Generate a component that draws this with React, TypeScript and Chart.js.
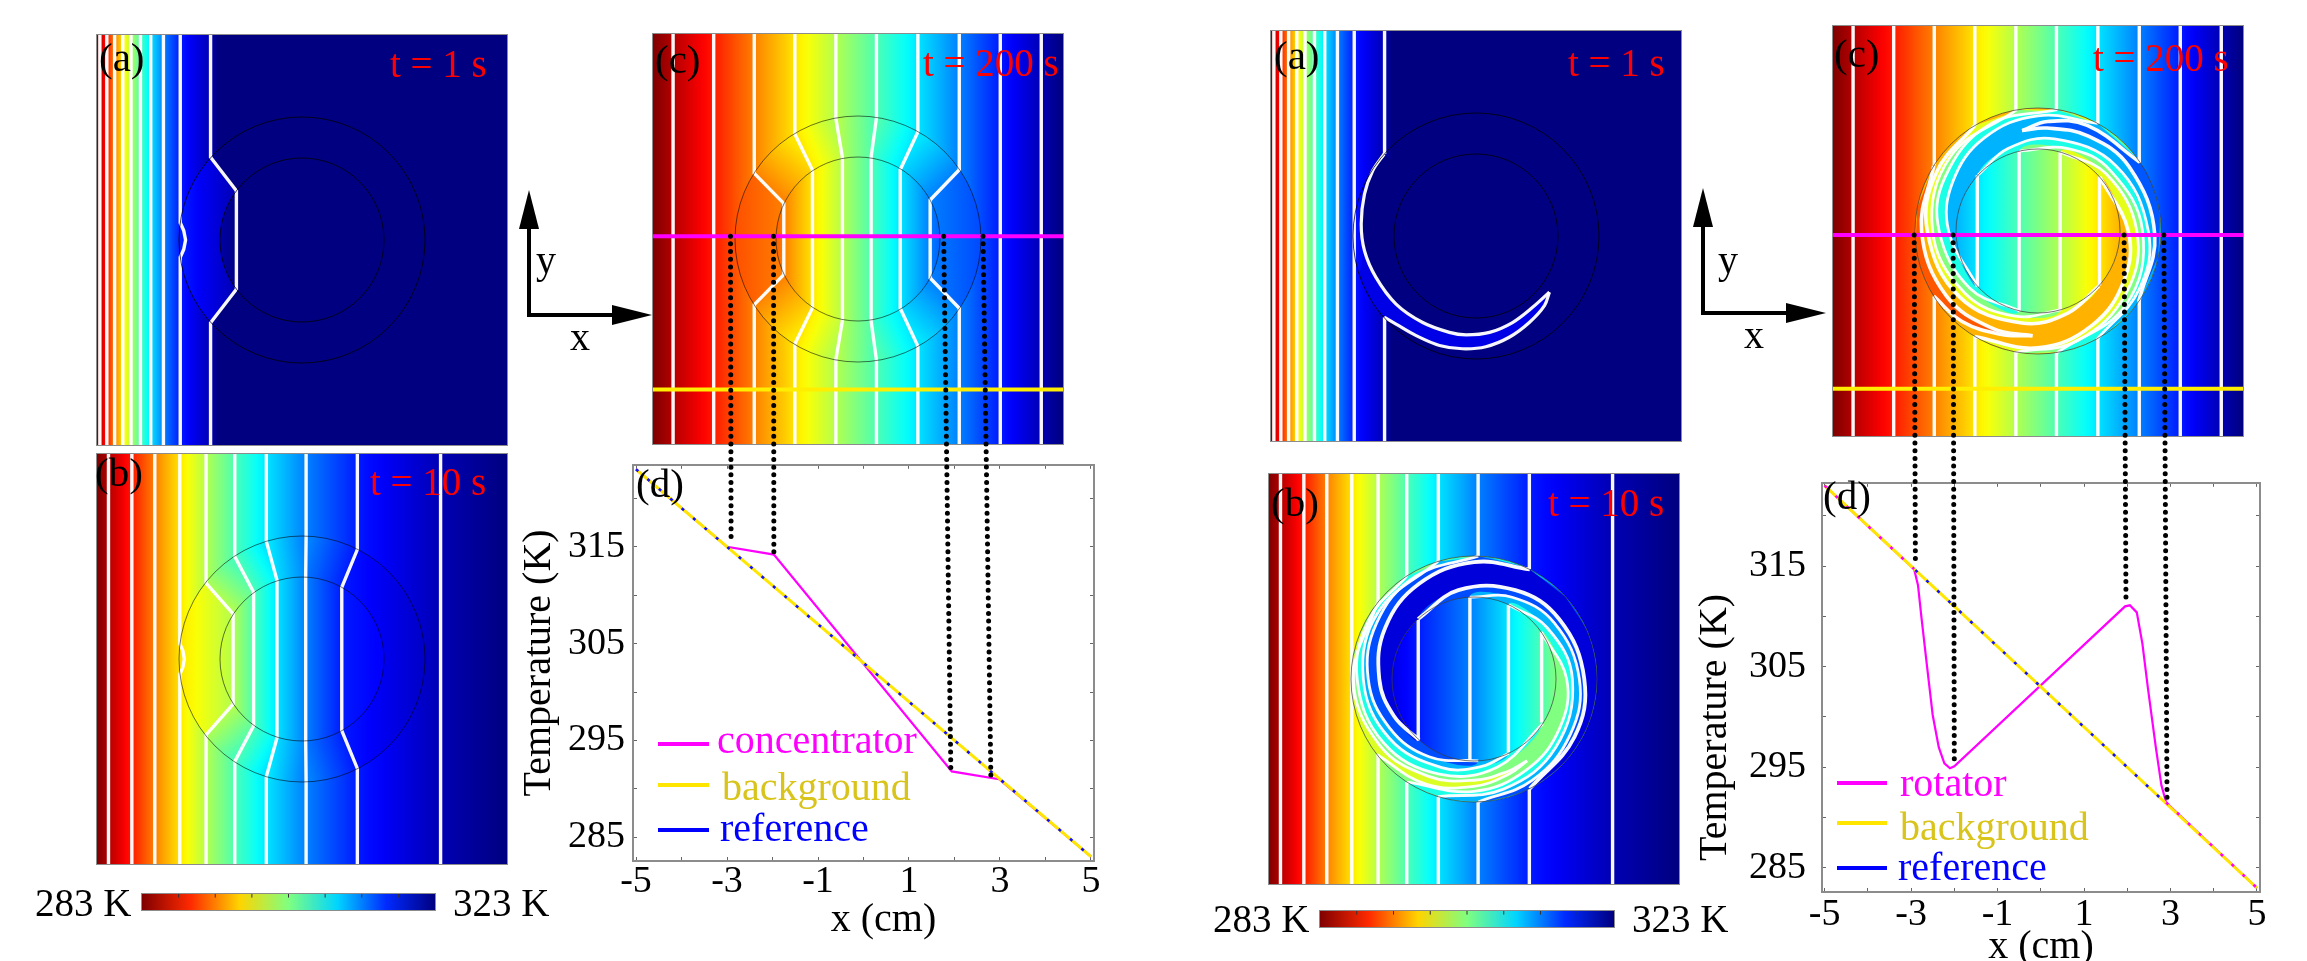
import React, { useEffect, useRef } from 'react';
import { Chart, registerables } from 'chart.js';
Chart.register(...registerables);

const FONT = '"Liberation Serif", "Times New Roman", serif';

// ---------- colour scale (level 0 = 283 K end, level 1 = 323 K end)
const jetNodes = [[0, 128, 0, 0], [0.125, 255, 0, 0], [0.375, 255, 255, 0], [0.5, 128, 255, 128], [0.625, 0, 255, 255], [0.875, 0, 0, 255], [1, 0, 0, 128]];
const contourLevels = [0.05, 0.15, 0.25, 0.35, 0.45, 0.55, 0.65, 0.75, 0.85, 0.95];
const colorbarTicks = [288, 293, 298, 303, 308, 313, 318];

// ---------- isotherm x positions (cm) away from the device, one per contour level
const isoT1 = [-4.93, -4.76, -4.57, -4.37, -4.17, -3.94, -3.69, -3.38, -2.97, -2.23];
const isoT10 = [-4.72, -4.15, -3.59, -2.98, -2.34, -1.64, -0.87, 0.1, 1.35, 3.38];
const isoT200 = [-4.51, -3.52, -2.53, -1.54, -0.54, 0.45, 1.46, 2.47, 3.47, 4.47];

// ---------- concentrator contours inside the shell: [iso index, y at r=3, x at r=2, y at r=2]
const concKinksT1 = [[9, 2.02, -1.6, 1.2]];
const concKinksT10 = [[4, 1.85, -1.68, 1.1], [5, 2.5, -1.18, 1.63], [6, 2.87, -0.61, 1.92], [7, 2.99, 0.09, 2.0], [8, 2.67, 0.97, 1.75]];
const concKinksT200 = [[2, 1.6, -1.81, 0.87], [3, 2.56, -1.11, 1.68], [4, 2.94, -0.38, 1.99], [5, 2.96, 0.32, 2.0], [6, 2.61, 1.03, 1.69], [7, 1.69, 1.76, 0.95]];
// bump on an isotherm that grazes the shell: [iso index, x of bump, half height]
const concBumpT1 = [8, -2.84, 0.42];
const concBumpT10 = [3, -2.87, 0.37];

// ---------- rotator contours in polar form [angle deg, radius cm]
const rotB_85t = [[63, 3], [90, 2.85], [120, 2.68], [150, 2.5], [180, 2.31], [205, 2.15], [228, 2]];
const rotB_75t = [[88, 3], [120, 2.88], [150, 2.74], [180, 2.58], [210, 2.38], [240, 2.19], [273, 2]];
const rotB_65t = [[107, 3], [145, 2.85], [180, 2.7], [215, 2.52], [250, 2.3], [275, 2.14], [295, 2]];
const rotB_55t = [[123, 3], [150, 2.94], [180, 2.85], [215, 2.7], [250, 2.47], [285, 2.22], [327, 2]];
const rotB_45a = [[142, 3], [180, 2.94], [215, 2.81], [245, 2.62], [270, 2.47], [290, 2.4], [303, 2.38]];
const rotB_45b = [[218, 3], [245, 2.82], [270, 2.62], [290, 2.47], [303, 2.38]];
const rotB_55b = [[237, 3], [270, 2.74], [300, 2.56], [330, 2.41], [360, 2.26], [395, 2]];
const rotB_65b = [[253, 3], [285, 2.78], [320, 2.6], [360, 2.4], [395, 2.18], [425, 2]];
const rotB_75b = [[272, 3], [300, 2.85], [330, 2.71], [360, 2.57], [395, 2.39], [425, 2.2], [453, 2]];
const rotB_85b = [[297, 3], [330, 2.83], [360, 2.69], [395, 2.54], [425, 2.39], [460, 2.2], [493, 2]];

const rotC_25a = [[148, 3], [180, 2.84], [215, 2.74], [245, 2.62], [267, 2.56]];
const rotC_25b = [[212, 3], [230, 2.88], [250, 2.68], [267, 2.56]];
const rotC_35t = [[121, 3], [150, 2.86], [180, 2.7], [220, 2.5], [260, 2.28], [290, 2.13], [318, 2]];
const rotC_45t = [[100, 3], [140, 2.8], [180, 2.57], [220, 2.34], [255, 2.15], [286, 2]];
const rotC_55t = [[81, 3], [115, 2.85], [150, 2.62], [180, 2.41], [220, 2.17], [257, 2]];
const rotC_65t = [[61, 3], [90, 2.81], [120, 2.62], [150, 2.4], [180, 2.18], [222, 2]];
const rotC_35b = [[239, 3], [270, 2.85], [300, 2.65], [330, 2.42], [360, 2.2], [401, 2]];
const rotC_45b = [[260, 3], [290, 2.84], [325, 2.63], [360, 2.41], [400, 2.17], [434, 2]];
const rotC_55b = [[279, 3], [320, 2.8], [360, 2.55], [400, 2.3], [430, 2.14], [463, 2]];
const rotC_65b = [[299, 3], [330, 2.85], [360, 2.69], [400, 2.48], [440, 2.28], [470, 2.14], [497, 2]];
const rotC_75a = [[325, 3], [358, 2.85], [395, 2.72], [422, 2.62], [445, 2.52], [459, 2.48]];
const rotC_75b = [[394, 3], [425, 2.84], [445, 2.68], [459, 2.48]];

// rotator t = 1 s crescent, x/y in cm
const crescentInner = [[-2.24, 2.0], [-2.52, 1.59], [-2.72, 1.02], [-2.8, 0.29], [-2.72, -0.36], [-2.44, -1.01], [-1.95, -1.66], [-1.3, -2.11], [-0.65, -2.35], [-0.24, -2.41], [0.33, -2.35], [0.89, -2.11], [1.38, -1.74], [1.79, -1.37]];
const crescentOuter = [[1.79, -1.37], [1.67, -1.7], [1.3, -2.11], [0.81, -2.47], [0.24, -2.7], [-0.33, -2.75], [-0.89, -2.67], [-1.46, -2.43], [-1.95, -2.15], [-2.24, -1.98]];

// rotator straight parts: y where the level hits the outer circle (iso index 4..8 / 2..7) and inside lines [x, yTop, yBottom]
const rotBOuterY = [1.83, 2.51, 2.87, 3, 2.68];
const rotBInner = [[-1.36, 1.44, -1.5], [-0.1, 2, -2], [0.84, 1.81, -1.79], [1.65, 1.14, -1.06]];
const rotBInnerLevels = [0.85, 0.75, 0.65, 0.55];
const rotCOuterY = [1.6, 2.56, 2.94, 2.96, 2.61, 1.66];
const rotCInner = [[-1.48, 1.36, -1.36], [-0.46, 1.95, -1.95], [0.54, 1.93, -1.93], [1.5, 1.33, -1.33]];
const rotCInnerLevels = [0.65, 0.55, 0.45, 0.35];

// ---------- temperature profiles, x in cm, T in K
const referenceX = [-5, 5];
const referenceT = [323, 283];
const backgroundX = [-5, 5];
const backgroundT = [323, 283];
const concentratorX = [-5, -3, -1.97, 1.94, 2.98, 5];
const concentratorT = [323, 315, 314.2, 291.8, 291, 283];
const rotatorX = [-5, -2.93, -2.84, -2.76, -2.63, -2.5, -2.36, -2.23, -2.1, -2, 1.95, 2.06, 2.22, 2.35, 2.48, 2.66, 2.79, 2.9, 5];
const rotatorT = [323, 314.7, 313.1, 309.9, 305, 300.2, 297, 295.4, 294.9, 295.1, 311, 311.1, 310.4, 307.3, 302.8, 297, 293.2, 291.5, 283];
const referenceMidX = [-2.9, 2.9];
const referenceMidT = [314.6, 291.4];
const xAxisTicks = [-5, -4, -3, -2, -1, 0, 1, 2, 3, 4, 5];
const yAxisTicks = [285, 290, 295, 300, 305, 310, 315, 320];
const xTickLabels = [-5, -3, -1, 1, 3, 5];
const yTickLabels = [285, 295, 305, 315];

// connectors: position on the cut line of (c) -> point on the curve of (d)
const connLeftTopX = [-3.11, -2.06, 2.09, 3.05];
const connLeftBottomX = [-2.91, -1.97, 1.92, 2.8];
const connLeftBottomT = [315, 314, 291.7, 291];
const connRightTopX = [-3.02, -2.07, 2.1, 3.07];
const connRightBottomX = [-2.9, -2.0, 1.97, 2.92];
const connRightBottomT = [314.6, 295, 311, 291.3];
const cutLeft = { magenta: 0.07, yellow: -3.67 };
const cutRight = { magenta: -0.1, yellow: -3.85 };

// ---------- layout (page pixels)
const SIZE = 410;
const P = {
  la: { left: 97, top: 35 }, lb: { left: 97, top: 454 }, lc: { left: 653, top: 34 },
  ra: { left: 1271, top: 31 }, rb: { left: 1269, top: 474 }, rc: { left: 1833, top: 26 },
};
const LD = { cl: 512, ct: 430, cw: 600, ch: 531, left: 633, right: 1094, top: 460, bottom: 861, xMin: -5.066, xMax: 5.066, yMin: 282.55, yMax: 323.47 };
const RD = { cl: 1690, ct: 440, cw: 617, ch: 521, left: 1822, right: 2260, top: 471, bottom: 892, xMin: -5.06, xMax: 5.07, yMin: 282.6, yMax: 323.28 };
const CB = [{ left: 142, top: 894, w: 293, h: 16 }, { left: 1320, top: 911, w: 294, h: 16 }];
const arrows = [
  { x: 529, yTop: 190, yBase: 229, y0: 315, xEnd: 652, xBase: 612 },
  { x: 1703, yTop: 188, yBase: 227, y0: 313, xEnd: 1826, xBase: 1786 },
];
const labels: any[] = [
  ['(a)', 99, 57, 41, '#000'], ['t = 1 s', 390, 63, 39, '#f00'],
  ['(b)', 95, 472, 41, '#000'], ['t = 10 s', 370, 481, 39, '#f00'],
  ['(c)', 655, 59, 41, '#000'], ['t = 200 s', 923, 62, 39, '#f00'],
  ['(d)', 636, 483, 41, '#000'],
  ['283 K', 35, 902, 39, '#000'], ['323 K', 453, 902, 39, '#000'],
  ['y', 536, 260, 40, '#000'], ['x', 570, 337, 40, '#000'],
  ['concentrator', 717, 740, 40, '#ff00ff'], ['background', 722, 787, 40, '#d9c41c'], ['reference', 720, 828, 40, '#0000ff'],
  ['(a)', 1274, 55, 41, '#000'], ['t = 1 s', 1568, 62, 39, '#f00'],
  ['(b)', 1271, 502, 41, '#000'], ['t = 10 s', 1548, 502, 39, '#f00'],
  ['(c)', 1834, 53, 41, '#000'], ['t = 200 s', 2093, 57, 39, '#f00'],
  ['(d)', 1823, 495, 41, '#000'],
  ['283 K', 1213, 918, 39, '#000'], ['323 K', 1632, 918, 39, '#000'],
  ['y', 1718, 260, 40, '#000'], ['x', 1744, 335, 40, '#000'],
  ['rotator', 1900, 783, 40, '#ff00ff'], ['background', 1900, 827, 40, '#d9c41c'], ['reference', 1898, 867, 40, '#0000ff'],
];
const swatches: any[] = [
  [658, 744, 51, '#ff00ff'], [658, 785, 51, '#ffe600'], [658, 830, 51, '#0000ff'],
  [1837, 783, 50, '#ff00ff'], [1837, 823, 50, '#ffe600'], [1837, 868, 50, '#0000ff'],
];

// ---------- helpers
function jetRgb(l: number) {
  const v = Math.max(0, Math.min(1, l));
  for (let i = 1; i < jetNodes.length; i++) {
    if (v <= jetNodes[i][0]) {
      const a = jetNodes[i - 1], b = jetNodes[i];
      const t = (v - a[0]) / (b[0] - a[0]);
      return `rgb(${Math.round(a[1] + (b[1] - a[1]) * t)},${Math.round(a[2] + (b[2] - a[2]) * t)},${Math.round(a[3] + (b[3] - a[3]) * t)})`;
    }
  }
  return 'rgb(0,0,128)';
}
function addStops(g: CanvasGradient, stops: number[][]) {
  for (let i = 0; i < stops.length - 1; i++) {
    const [p0, l0] = stops[i], [p1, l1] = stops[i + 1];
    for (let k = 0; k <= 6; k++) {
      const t = k / 6;
      g.addColorStop(Math.max(0, Math.min(1, p0 + (p1 - p0) * t)), jetRgb(l0 + (l1 - l0) * t));
    }
  }
}
// gradients need a laid-out scale; before layout Chart.js may ask for the option once
const ready = (...v: number[]) => v.every(Number.isFinite);
// horizontal gradient over x stops [[x, level]...]
const xGradient = (stops: number[][]) => (c: any) => {
  const s = c.chart.scales.x;
  const x0 = stops[0][0], x1 = stops[stops.length - 1][0];
  const a = s.getPixelForValue(x0), b = s.getPixelForValue(x1);
  if (!ready(a, b)) return 'rgba(0,0,0,0)';
  const g = c.chart.ctx.createLinearGradient(a, 0, b, 0);
  addStops(g, stops.map(([x, l]) => [(x - x0) / (x1 - x0), l]));
  return g;
};
const lineGradient = (a: number[], b: number[], la: number, lb: number) => (c: any) => {
  const { x, y } = c.chart.scales;
  const v = [x.getPixelForValue(a[0]), y.getPixelForValue(a[1]), x.getPixelForValue(b[0]), y.getPixelForValue(b[1])];
  if (!ready(...v)) return 'rgba(0,0,0,0)';
  const g = c.chart.ctx.createLinearGradient(v[0], v[1], v[2], v[3]);
  addStops(g, [[0, la], [1, lb]]);
  return g;
};
const xy = (pts: number[][]) => pts.map(([x, y]) => ({ x, y }));
const pol = (pts: number[][]) => pts.map(([a, r]) => [r * Math.cos(a * Math.PI / 180), r * Math.sin(a * Math.PI / 180)]);
const rarc = (r: number, a0: number, a1: number, step = 25) => {
  const n = Math.max(1, Math.ceil(Math.abs(a1 - a0) / step));
  const out: number[][] = [];
  for (let i = 1; i < n; i++) out.push([a0 + (a1 - a0) * i / n, r]);
  return out;
};
const deg = (x: number, y: number) => Math.atan2(y, x) * 180 / Math.PI;

const WHITE = 'rgba(255,255,255,0.97)';
const polyDs = (pts: number[][], color: any, tension = 0) => ({ data: xy(pts), fill: 'shape', backgroundColor: color, borderWidth: 0, pointRadius: 0, tension, showLine: true });
const lineDs = (pts: number[][], color = WHITE, width = 3.4, tension = 0) => ({ data: xy(pts), borderColor: color, borderWidth: width, pointRadius: 0, fill: false, tension });
const circleDs = (r: number, fill: any, stroke = 'rgba(0,0,0,0)', width = 0) => ({
  data: [{ x: 0, y: 0 }], showLine: false, pointStyle: 'circle',
  pointRadius: (c: any) => {
    const d = c.chart.scales.x.getPixelForValue(r) - c.chart.scales.x.getPixelForValue(0);
    return Number.isFinite(d) ? d : 0;
  },
  pointBackgroundColor: fill, pointBorderColor: stroke, pointBorderWidth: width, clip: false,
});
const fieldDs = (iso: number[], tail?: number) => {
  const stops = [[-5, 0], ...iso.map((x, i) => [x, contourLevels[i]])];
  if (tail !== undefined) stops.push([tail, 1]);
  stops.push([5, 1]);
  return polyDs([[-5, -5], [5, -5], [5, 5], [-5, 5]], xGradient(stops));
};
const levelAt = (iso: number[], x: number) => {
  const xs = [-5, ...iso, 5], ls = [0, ...contourLevels, 1];
  for (let i = 1; i < xs.length; i++) if (x <= xs[i]) return ls[i - 1] + (ls[i] - ls[i - 1]) * (x - xs[i - 1]) / (xs[i] - xs[i - 1]);
  return 1;
};

function concentrator(iso: number[], kinks: number[][], bump: number[] | null, tail: number | undefined, ring = 'rgba(0,0,0,0.55)', cut?: any) {
  const ds: any[] = [fieldDs(iso, tail)];
  const K = kinks.map(([i, yo, xi, yi]) => ({ i, xo: iso[i], yo, xi, yi, l: contourLevels[i] }));
  // bands between neighbouring contours
  for (let k = 0; k < K.length - 1; k++) {
    const a = K[k], b = K[k + 1];
    for (const s of [1, -1]) {
      const a0 = deg(a.xo, a.yo * s), a1 = deg(b.xo, b.yo * s);
      const i0 = deg(a.xi, a.yi * s), i1 = deg(b.xi, b.yi * s);
      const arcO = pol(rarc(3, a0, a1, 8));
      const arcI = pol(rarc(2, i1, i0, 8));
      const pts = [[a.xo, a.yo * s], ...arcO, [b.xo, b.yo * s], [b.xi, b.yi * s], ...arcI, [a.xi, a.yi * s]];
      ds.push(polyDs(pts, lineGradient([(a.xo + a.xi) / 2, ((a.yo + a.yi) / 2) * s], [(b.xo + b.xi) / 2, ((b.yo + b.yi) / 2) * s], a.l, b.l)));
    }
  }
  // left side of the shell
  const f = K[0];
  {
    const a = deg(f.xo, f.yo), b = deg(f.xi, f.yi);
    const pts = [[f.xo, f.yo], ...pol(rarc(3, a, 360 - a, 8)), [f.xo, -f.yo], [f.xi, -f.yi], ...pol(rarc(2, 360 - b, b, 8)), [f.xi, f.yi]];
    ds.push(polyDs(pts, xGradient([[-3, levelAt(iso, -3)], [f.xi, f.l]])));
  }
  // right side of the shell
  const e = K[K.length - 1];
  if (e.i < 9) {
    const a = deg(e.xo, e.yo), b = deg(e.xi, e.yi);
    const pts = [[e.xo, e.yo], ...pol(rarc(3, a, -a, 8)), [e.xo, -e.yo], [e.xi, -e.yi], ...pol(rarc(2, -b, b, 8)), [e.xi, e.yi]];
    ds.push(polyDs(pts, xGradient([[e.xi, e.l], [3, levelAt(iso, 3)]])));
  }
  // inner disc
  const discStops = e.i === 9 ? [[-2, 0.96], [f.xi, 1], [2, 1]]
    : [[-2, f.l - 0.03], ...K.map(k => [k.xi, k.l]), [2, e.l + 0.03]];
  ds.push(circleDs(2, xGradient(discStops)));
  // contours
  iso.forEach((x, i) => {
    const kink = K.find(k => k.i === i);
    if (kink) ds.push(lineDs([[x, 5], [x, kink.yo], [kink.xi, kink.yi], [kink.xi, -kink.yi], [x, -kink.yo], [x, -5]]));
    else if (bump && bump[0] === i) {
      ds.push(lineDs([[x, 5], [x, bump[2]], [(x + bump[1]) / 2 + 0.02, bump[2] * 0.55], [bump[1], 0], [(x + bump[1]) / 2 + 0.02, -bump[2] * 0.55], [x, -bump[2]], [x, -5]]));
    } else ds.push(lineDs([[x, 5], [x, -5]]));
  });
  ds.push(circleDs(3, 'rgba(0,0,0,0)', ring, 1));
  ds.push(circleDs(2, 'rgba(0,0,0,0)', ring, 1));
  if (cut) {
    ds.push(lineDs([[-5, cut.yellow], [5, cut.yellow]], '#ffee00', 4));
    ds.push(lineDs([[-5, cut.magenta], [5, cut.magenta]], '#ff00ff', 4));
  }
  return ds;
}

const zone = (top: number[][], bot: number[][], level: number) => {
  let end = top[0][0];
  while (end < bot[0][0]) end += 360;
  const path = [...top, ...[...bot].reverse(), ...rarc(3, bot[0][0], end)];
  return polyDs(pol(path), jetRgb(level), 0.3);
};
const loop = (a: number[][], b: number[][], level: number) => {
  const path = [...a, ...[...b].reverse(), ...rarc(3, b[0][0], a[0][0])];
  return polyDs(pol(path), jetRgb(level), 0.3);
};
const spiral = (pts: number[][], width = 2.8) => lineDs(pol(pts), WHITE, width, 0.4);

function rotatorB() {
  const ds: any[] = [fieldDs(isoT10)];
  ds.push(circleDs(3, jetRgb(0.5)));
  ds.push(loop(rotB_45a, rotB_45b, 0.41));
  ds.push(zone(rotB_55t, rotB_55b, 0.6));
  ds.push(zone(rotB_65t, rotB_65b, 0.7));
  ds.push(zone(rotB_75t, rotB_75b, 0.8));
  ds.push(zone(rotB_85t, rotB_85b, 0.91));
  ds.push(circleDs(2, xGradient([[-2, 0.9], ...rotBInner.map((r, i) => [r[0], rotBInnerLevels[i]]), [2, 0.5]])));
  isoT10.forEach((x, i) => {
    if (i >= 4 && i <= 8) {
      const y = rotBOuterY[i - 4];
      ds.push(lineDs([[x, 5], [x, y]]));
      ds.push(lineDs([[x, -y], [x, -5]]));
    } else ds.push(lineDs([[x, 5], [x, -5]]));
  });
  rotBInner.forEach(([x, t, b]) => ds.push(lineDs([[x, t], [x, b]])));
  [rotB_45a, rotB_45b, rotB_55t, rotB_55b, rotB_65t, rotB_65b, rotB_75t, rotB_75b].forEach(s => ds.push(spiral(s)));
  ds.push(spiral(rotB_85t, 3.8));
  ds.push(spiral(rotB_85b, 3.8));
  ds.push(circleDs(3, 'rgba(0,0,0,0)', 'rgba(60,60,60,0.7)', 1));
  ds.push(circleDs(2, 'rgba(0,0,0,0)', 'rgba(60,60,60,0.7)', 1));
  return ds;
}
function rotatorC() {
  const ds: any[] = [fieldDs(isoT200)];
  ds.push(circleDs(3, jetRgb(0.3)));
  ds.push(loop(rotC_25a, rotC_25b, 0.21));
  ds.push(zone(rotC_35t, rotC_35b, 0.4));
  ds.push(zone(rotC_45t, rotC_45b, 0.5));
  ds.push(zone(rotC_55t, rotC_55b, 0.6));
  ds.push(zone(rotC_65t, rotC_65b, 0.7));
  ds.push(loop(rotC_75a, rotC_75b, 0.79));
  ds.push(circleDs(2, xGradient([[-2, 0.7], ...rotCInner.map((r, i) => [r[0], rotCInnerLevels[i]]), [2, 0.3]])));
  isoT200.forEach((x, i) => {
    if (i >= 2 && i <= 7) {
      const y = rotCOuterY[i - 2];
      ds.push(lineDs([[x, 5], [x, y]]));
      ds.push(lineDs([[x, -y], [x, -5]]));
    } else ds.push(lineDs([[x, 5], [x, -5]]));
  });
  rotCInner.forEach(([x, t, b]) => ds.push(lineDs([[x, t], [x, b]])));
  [rotC_45t, rotC_45b, rotC_55t, rotC_55b, rotC_65t, rotC_65b].forEach(s => ds.push(spiral(s)));
  [rotC_25a, rotC_25b, rotC_35t, rotC_35b, rotC_75a, rotC_75b].forEach(s => ds.push(spiral(s, 3.6)));
  ds.push(circleDs(3, 'rgba(0,0,0,0)', 'rgba(60,60,60,0.7)', 1));
  ds.push(circleDs(2, 'rgba(0,0,0,0)', 'rgba(60,60,60,0.7)', 1));
  ds.push(lineDs([[-5, cutRight.yellow], [5, cutRight.yellow]], '#ffee00', 4));
  ds.push(lineDs([[-5, cutRight.magenta], [5, cutRight.magenta]], '#ff00ff', 4));
  return ds;
}
function rotatorA() {
  const ds: any[] = [fieldDs(isoT1, -2.05)];
  ds.push(polyDs(crescentInner, jetRgb(1), 0.3));
  ds.push(polyDs([...crescentInner.slice(4), ...crescentOuter, [-2.62, -1.46], [-2.85, -0.95]], jetRgb(0.9), 0.3));
  ds.push(circleDs(2, jetRgb(1)));
  isoT1.forEach((x, i) => {
    if (i === 9) {
      ds.push(lineDs([[x, 5], [x, 2.0]]));
      ds.push(lineDs([[x, -1.98], [x, -5]]));
    } else ds.push(lineDs([[x, 5], [x, -5]]));
  });
  ds.push(lineDs(crescentInner, WHITE, 3.2, 0.35));
  ds.push(lineDs(crescentOuter, WHITE, 3.2, 0.35));
  ds.push(circleDs(3, 'rgba(0,0,0,0)', 'rgba(0,0,0,0.75)', 1));
  ds.push(circleDs(2, 'rgba(0,0,0,0)', 'rgba(0,0,0,0.75)', 1));
  return ds;
}

const fieldOptions = (): any => ({
  responsive: false, maintainAspectRatio: false, animation: false, devicePixelRatio: 1, events: [],
  layout: { padding: 0, autoPadding: false },
  plugins: { legend: { display: false }, tooltip: { enabled: false } },
  scales: { x: { type: 'linear', bounds: 'data', min: -5, max: 5, display: false }, y: { type: 'linear', bounds: 'data', min: -5, max: 5, display: false } },
});

const fixedTicks = (values: number[]) => (s: any) => { s.ticks = values.map(value => ({ value })); };

function profileOptions(g: any, opt: any): any {
  const tickStyle = { drawOnChartArea: false, drawTicks: true, tickLength: -4, tickColor: '#666', tickWidth: 1 };
  const border = { display: true, color: '#8c8c8c', width: 2 };
  const font = { family: FONT, size: 38 };
  return {
    responsive: false, maintainAspectRatio: false, animation: false, devicePixelRatio: 1, events: [],
    layout: { padding: { top: g.top - g.ct, right: g.cl + g.cw - g.right, left: 0, bottom: 0 }, autoPadding: false },
    plugins: { legend: { display: false }, tooltip: { enabled: false } },
    scales: {
      x: {
        type: 'linear', bounds: 'data', min: g.xMin, max: g.xMax, grid: tickStyle, border, afterBuildTicks: fixedTicks(xAxisTicks),
        ticks: { autoSkip: false, maxRotation: 0, minRotation: 0, font, color: '#000', padding: opt.xPad, callback: (v: number) => xTickLabels.includes(v) ? String(v) : '' },
        title: { display: true, text: opt.xTitle, font: { family: FONT, size: 40 }, color: '#000', padding: { top: 0, bottom: opt.xTitlePad } },
        afterFit: (s: any) => { s.height = g.ct + g.ch - g.bottom; },
      },
      y: {
        type: 'linear', bounds: 'data', min: g.yMin, max: g.yMax, grid: tickStyle, border, afterBuildTicks: fixedTicks(yAxisTicks),
        ticks: { autoSkip: false, font, color: '#000', padding: opt.yPad, callback: (v: number) => yTickLabels.includes(v) ? String(v) : '' },
        title: { display: true, text: opt.yTitle, font: { family: FONT, size: 40 }, color: '#000', padding: { top: opt.yTitlePad, bottom: 0 } },
        afterFit: (s: any) => { s.width = g.left - g.cl; },
      },
      x2: {
        type: 'linear', bounds: 'data', position: 'top', min: g.xMin, max: g.xMax, grid: tickStyle, border, afterBuildTicks: fixedTicks(xAxisTicks),
        ticks: { autoSkip: false, display: false }, afterFit: (s: any) => { s.height = 0; },
      },
      y2: {
        type: 'linear', bounds: 'data', position: 'right', min: g.yMin, max: g.yMax, grid: tickStyle, border, afterBuildTicks: fixedTicks(yAxisTicks),
        ticks: { autoSkip: false, display: false }, afterFit: (s: any) => { s.width = 0; },
      },
    },
  };
}
const zip = (xs: number[], ys: number[]) => xs.map((x, i) => ({ x, y: ys[i] }));
const curve = (label: string, xs: number[], ys: number[], color: string, width: number, dash?: number[]) => ({
  label, data: zip(xs, ys), borderColor: color, borderWidth: width, pointRadius: 0, fill: false, tension: 0, borderDash: dash || [],
});

// page-pixel conversion for the connectors
const fieldPx = (p: any, x: number, y: number) => ({ x: p.left + (x + 5) * SIZE / 10, y: p.top + (5 - y) * SIZE / 10 });
const plotPx = (g: any, x: number, t: number) => ({
  x: g.left + (x - g.xMin) / (g.xMax - g.xMin) * (g.right - g.left),
  y: g.bottom - (t - g.yMin) / (g.yMax - g.yMin) * (g.bottom - g.top),
});

function overlayDatasets() {
  const ds: any[] = [];
  const dot = { borderDash: [0, 7.7], borderCapStyle: 'round', borderWidth: 5, borderColor: '#000', pointRadius: 0, fill: false, tension: 0 };
  connLeftTopX.forEach((x, i) => ds.push({ ...dot, data: [fieldPx(P.lc, x, cutLeft.magenta), plotPx(LD, connLeftBottomX[i], connLeftBottomT[i])] }));
  connRightTopX.forEach((x, i) => ds.push({ ...dot, data: [fieldPx(P.rc, x, cutRight.magenta), plotPx(RD, connRightBottomX[i], connRightBottomT[i])] }));
  arrows.forEach(a => {
    const shaft = { borderColor: '#000', borderWidth: 4, pointRadius: 0, fill: false, tension: 0 };
    ds.push({ ...shaft, data: [{ x: a.x, y: a.yBase }, { x: a.x, y: a.y0 }, { x: a.xBase, y: a.y0 }] });
    ds.push({ data: [{ x: a.x, y: a.yTop }, { x: a.x + 10, y: a.yBase }, { x: a.x - 10, y: a.yBase }], fill: 'shape', backgroundColor: '#000', borderWidth: 0, pointRadius: 0 });
    ds.push({ data: [{ x: a.xEnd, y: a.y0 }, { x: a.xBase, y: a.y0 - 10 }, { x: a.xBase, y: a.y0 + 10 }], fill: 'shape', backgroundColor: '#000', borderWidth: 0, pointRadius: 0 });
  });
  return ds;
}

type Spec = { left: number; top: number; w: number; h: number; frame?: boolean; config: () => any };
const specs: Spec[] = [
  { ...P.la, w: SIZE, h: SIZE, frame: true, config: () => ({ type: 'line', data: { datasets: concentrator(isoT1, concKinksT1, concBumpT1, -2.05, 'rgba(0,0,0,0.75)') }, options: fieldOptions() }) },
  { ...P.lb, w: SIZE, h: SIZE, frame: true, config: () => ({ type: 'line', data: { datasets: concentrator(isoT10, concKinksT10, concBumpT10, undefined) }, options: fieldOptions() }) },
  { ...P.lc, w: SIZE, h: SIZE, frame: true, config: () => ({ type: 'line', data: { datasets: concentrator(isoT200, concKinksT200, null, undefined, 'rgba(0,0,0,0.55)', cutLeft) }, options: fieldOptions() }) },
  { ...P.ra, w: SIZE, h: SIZE, frame: true, config: () => ({ type: 'line', data: { datasets: rotatorA() }, options: fieldOptions() }) },
  { ...P.rb, w: SIZE, h: SIZE, frame: true, config: () => ({ type: 'line', data: { datasets: rotatorB() }, options: fieldOptions() }) },
  { ...P.rc, w: SIZE, h: SIZE, frame: true, config: () => ({ type: 'line', data: { datasets: rotatorC() }, options: fieldOptions() }) },
  ...CB.map(b => ({
    left: b.left, top: b.top, w: b.w, h: b.h, frame: true,
    config: () => ({
      type: 'line',
      data: {
        datasets: [
          { data: xy([[283, -1], [323, -1], [323, 1], [283, 1]]), fill: 'shape', borderWidth: 0, pointRadius: 0, backgroundColor: xGradient([[283, 0], [323, 1]]) },
          { data: colorbarTicks.map(x => ({ x, y: 0.8 })), showLine: false, pointStyle: 'line', pointRotation: 90, pointRadius: 2, pointBorderColor: '#333', pointBorderWidth: 1 },
        ],
      },
      options: { ...fieldOptions(), scales: { x: { type: 'linear', bounds: 'data', min: 283, max: 323, display: false }, y: { type: 'linear', bounds: 'data', min: -1, max: 1, display: false } } },
    }),
  })),
  {
    left: LD.cl, top: LD.ct, w: LD.cw, h: LD.ch,
    config: () => ({
      type: 'line',
      data: {
        datasets: [
          curve('concentrator', concentratorX, concentratorT, '#ff00ff', 2.2),
          curve('background', backgroundX, backgroundT, '#ffe600', 3),
          curve('reference', referenceX, referenceT, '#1010ff', 2.6, [3, 12]),
        ],
      },
      options: profileOptions(LD, { xTitle: '    x (cm)', yTitle: 'Temperature (K)', xPad: 2, yPad: 12, xTitlePad: 17, yTitlePad: 3 }),
    }),
  },
  {
    left: RD.cl, top: RD.ct, w: RD.cw, h: RD.ch,
    config: () => ({
      type: 'line',
      data: {
        datasets: [
          curve('rotator', rotatorX, rotatorT, '#ff00ff', 2.2),
          curve('background', backgroundX, backgroundT, '#ffe600', 3),
          curve('rotator-edge', [2.9, 5], [291.5, 283], '#ff00ff', 2.6, [3, 12]),
          curve('rotator-edge', [-5, -2.93], [323, 314.7], '#ff00ff', 2.6, [3, 12]),
          curve('reference', referenceMidX, referenceMidT, '#1010ff', 2.6, [3, 12]),
        ],
      },
      options: profileOptions(RD, { xTitle: 'x (cm)', yTitle: 'Temperature (K)        ', xPad: 4, yPad: 20, xTitlePad: -10, yTitlePad: 1 }),
    }),
  },
  {
    left: 0, top: 0, w: 2307, h: 961,
    config: () => ({
      type: 'line',
      data: { datasets: overlayDatasets() },
      options: { ...fieldOptions(), scales: { x: { type: 'linear', bounds: 'data', min: 0, max: 2307, display: false }, y: { type: 'linear', bounds: 'data', min: 0, max: 961, reverse: true, display: false } } },
    }),
  },
];

function bottomToTop(cfg: any) {
  // Chart.js paints the first dataset last: the lists above run bottom-to-top
  cfg.data.datasets = [...cfg.data.datasets].reverse();
  return cfg;
}

export default function App() {
  const refs = useRef<(HTMLCanvasElement | null)[]>([]);
  useEffect(() => {
    const charts = specs.map((s, i) => new Chart(refs.current[i] as HTMLCanvasElement, bottomToTop(s.config())));
    return () => charts.forEach(c => c.destroy());
  }, []);
  return (
    <div style={{ position: 'absolute', left: 0, top: 0, width: 2307, height: 961, overflow: 'hidden', background: '#fff' }}>
      {specs.map((s, i) => (
        <canvas
          key={i}
          ref={el => { refs.current[i] = el; }}
          width={s.w}
          height={s.h}
          style={{
            position: 'absolute', left: s.left, top: s.top, width: s.w, height: s.h, display: 'block',
            outline: s.frame ? '1px solid #8c8c8c' : undefined, pointerEvents: 'none',
          }}
        />
      ))}
      {swatches.map(([x, y, w, c], i) => (
        <div key={i} style={{ position: 'absolute', left: x, top: y - 2, width: w, height: 4, background: c }} />
      ))}
      {labels.map(([t, x, y, size, c], i) => (
        <div key={i} style={{ position: 'absolute', left: x, top: y, transform: 'translateY(-50%)', fontFamily: FONT, fontSize: size, lineHeight: 1, color: c, whiteSpace: 'pre' }}>{t}</div>
      ))}
    </div>
  );
}
